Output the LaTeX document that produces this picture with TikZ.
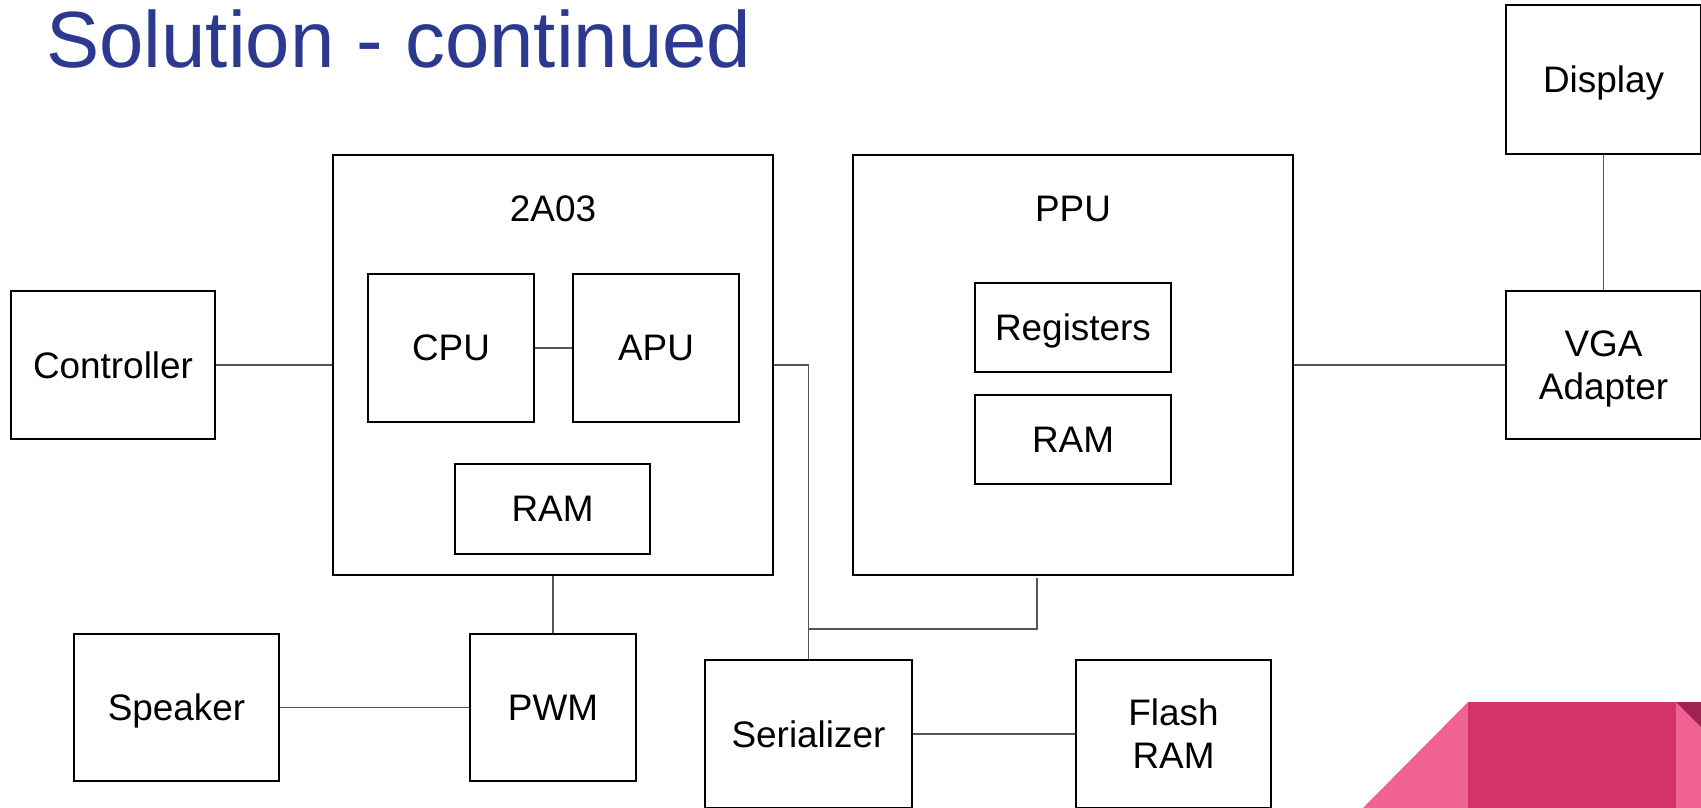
\documentclass[tikz,border=0pt]{standalone}
\usepackage{fontspec}
\setmainfont{Liberation Sans}
\definecolor{titleblue}{RGB}{43,58,144}
\definecolor{wiregray}{RGB}{85,85,85}
\definecolor{pinklight}{RGB}{240,98,146}
\definecolor{pinkdark}{RGB}{210,51,105}
\definecolor{pinkmaroon}{RGB}{158,35,80}
\begin{document}
\begin{tikzpicture}[x=0.02cm, y=-0.02cm,
  box/.style 2 args={draw, line width=1.1pt, inner sep=0pt, align=center,
    minimum width=#1*0.02cm, minimum height=#2*0.02cm, text depth=0pt,
    font=\fontsize{21}{24.5}\selectfont},
  wire/.style={draw=wiregray, line width=1pt}]
\useasboundingbox (0,0) rectangle (1701,808);
\fill[pinklight] (1363,808) -- (1468,702) -- (1468,808) -- cycle;
\fill[pinkdark] (1468,702) rectangle (1676,808);
\fill[pinklight] (1676,702) rectangle (1701,808);
\fill[pinkmaroon] (1676,702) -- (1701,702) -- (1701,727) -- cycle;
\node[anchor=base west, inner sep=0pt, text=titleblue, font=\fontsize{45.4}{50}\selectfont] (title) at (46,67) {Solution - continued};
\node[box={204}{148}] (ctrl) at (113,365) {Controller};
\node[box={440}{420}] (chip) at (553,365) {};
\node[box={0}{0}, draw=none] (chiplbl) at (553,209) {2A03};
\node[box={166}{148}] (cpu) at (451,348) {CPU};
\node[box={166}{148}] (apu) at (656,348) {APU};
\node[box={195}{90}] (ram1) at (552.5,509) {RAM};
\node[box={440}{420}] (ppu) at (1073,365) {};
\node[box={0}{0}, draw=none] (ppulbl) at (1073,209) {PPU};
\node[box={196}{89}] (regs) at (1073,327.5) {Registers};
\node[box={196}{89}] (ram2) at (1073,439.5) {RAM};
\node[box={195}{149}] (disp) at (1603.5,79.5) {Display};
\node[box={195}{148}] (vga) at (1603.5,365) {VGA\\Adapter};
\node[box={205}{147}] (spk) at (176.5,707.5) {Speaker};
\node[box={166}{147}] (pwm) at (553,707.5) {PWM};
\node[box={207}{148}] (ser) at (808.5,734) {Serializer};
\node[box={195}{148}] (flash) at (1173.5,734) {Flash\\RAM};
\coordinate (ppuout) at (1037,578);
\coordinate (join) at (808.5,629);
\draw[wire] (ctrl) -- (chip);
\draw[wire] (cpu) -- (apu);
\draw[wire] (chip) -- (pwm);
\draw[wire] (spk) -- (pwm);
\draw[wire] (chip.east) -| (ser.north);
\draw[wire] (ppuout) |- (join);
\draw[wire] (ppu) -- (vga);
\draw[wire] (disp) -- (vga);
\draw[wire] (ser) -- (flash);
\end{tikzpicture}
\end{document}
